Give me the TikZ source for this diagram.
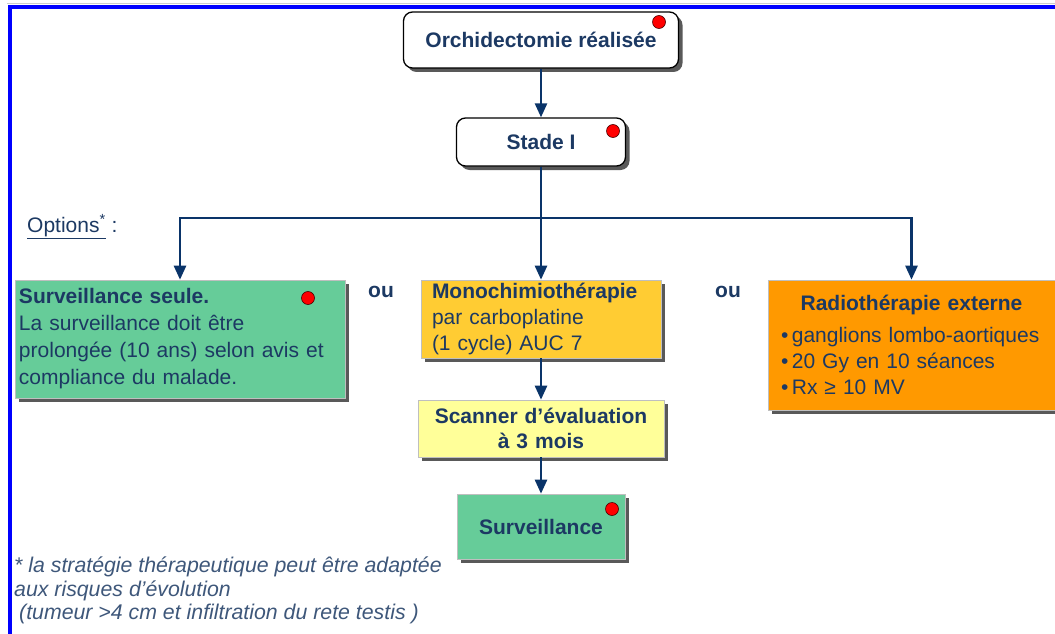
\documentclass[tikz,border=0pt]{standalone}
\usepackage{fontspec}
\setmainfont{Liberation Sans}
\usetikzlibrary{shadows,arrows.meta}
\definecolor{navy}{RGB}{28,57,99}
\definecolor{arrowblue}{RGB}{10,52,105}
\definecolor{survgreen}{RGB}{102,204,153}
\definecolor{chimio}{RGB}{255,204,51}
\definecolor{scanyellow}{RGB}{255,255,153}
\definecolor{radioorange}{RGB}{255,153,0}
\tikzset{font=\fontsize{21}{27}\selectfont, text=navy}
\tikzstyle{none}=[inner sep=0pt]
\tikzstyle{shade}=[drop shadow={shadow xshift=4pt,shadow yshift=-4pt,fill=black!65,opacity=1}]
\tikzstyle{rbox}=[rectangle,rounded corners=9pt,draw=black,line width=1.3pt,fill=white,shade,font=\fontsize{21}{27}\selectfont\bfseries]
\tikzstyle{box}=[rectangle,draw=black!25,line width=0.6pt,shade,inner ysep=0pt]
\tikzstyle{dot}=[circle,fill=red,draw=black!70!red,line width=0.6pt,minimum size=13pt,inner sep=0pt]
\tikzstyle{arr}=[draw=arrowblue,line width=2.5pt,-{Triangle[width=12pt,length=14pt]}]
\tikzstyle{edge}=[draw=arrowblue,line width=2.5pt]

\begin{document}
\begin{tikzpicture}[x=1pt,y=-1pt]
	\useasboundingbox (0,0) rectangle (1055,634);
	\draw[black!20,line width=1.5pt] (7,3.5) -- (1055,3.5);
	\draw[blue,line width=4pt] (8,7.5) -- (1055,7.5);
	\draw[blue,line width=4pt] (10,7.5) -- (10,634);

	\node [style=rbox,minimum width=275pt,minimum height=56pt] (orchi) at (541,40) {Orchidectomie réalisée};
	\node [style=rbox,minimum width=169pt,minimum height=48pt] (stade) at (541,142) {Stade I};
	\node [style=none,anchor=base west] (options) at (27,232) {\underline{Options\textsuperscript{*}} :};

	\node [style=box,fill=survgreen,minimum width=330pt,minimum height=118pt,inner xsep=4pt,text width=322pt,align=left] (seule) at (180,339)
		{\textbf{Surveillance seule.}\\La surveillance doit être\\prolongée (10 ans) selon avis et\\compliance du malade.};
	\node [style=box,fill=chimio,minimum height=78pt,inner xsep=11pt,text width=218pt,align=left,font=\fontsize{21}{26}\selectfont] (mono) at (541,319)
		{\textbf{Monochimiothérapie}\\par carboplatine\\(1 cycle) AUC 7};
	\node [style=box,fill=scanyellow,minimum height=57pt,text width=239pt,align=center,font=\fontsize{21}{25}\selectfont\bfseries] (scanner) at (541,428.5)
		{Scanner d'évaluation\\à 3 mois};
	\node [style=box,fill=survgreen,minimum width=168pt,minimum height=65pt,font=\fontsize{21}{27}\selectfont\bfseries] (surv) at (541,526.5) {Surveillance};
	\node [style=box,fill=radioorange,minimum height=130pt,inner xsep=13pt,text width=261pt,align=left,font=\fontsize{21}{26}\selectfont] (radio) at (911.5,345)
		{\makebox[261pt]{\bfseries Radiothérapie externe}\\[6pt]\textbullet\,ganglions lombo-aortiques\\\textbullet\,20 Gy en 10 séances\\\textbullet\,Rx ≥ 10 MV};

	\node [style=none,font=\fontsize{21}{27}\selectfont\bfseries] (ou1) at (381,292) {ou};
	\node [style=none,font=\fontsize{21}{27}\selectfont\bfseries] (ou2) at (728,292) {ou};

	\node [style=dot] (d1) at (659,22) {};
	\node [style=dot] (d2) at (613,131) {};
	\node [style=dot] (d3) at (308,298) {};
	\node [style=dot] (d4) at (612,509) {};

	\node [style=none,anchor=north west,align=left,font=\fontsize{21.3}{23.5}\selectfont\itshape,text=navy!85] (note) at (14,557)
		{* la stratégie thérapeutique peut être adaptée\\aux risques d'évolution\\\hspace*{5pt}(tumeur >4 cm et infiltration du rete testis )};

	\coordinate (split) at (541,218);
	\draw[style=arr] (orchi) -- (stade);
	\draw[style=edge] (stade) -- (split);
	\draw[style=arr] (split) -- (mono);
	\draw[style=arr] (split) -| (seule);
	\draw[style=arr] (split) -| (radio);
	\draw[style=arr] (mono) -- (scanner);
	\draw[style=arr] (scanner) -- (surv);
\end{tikzpicture}
\end{document}
